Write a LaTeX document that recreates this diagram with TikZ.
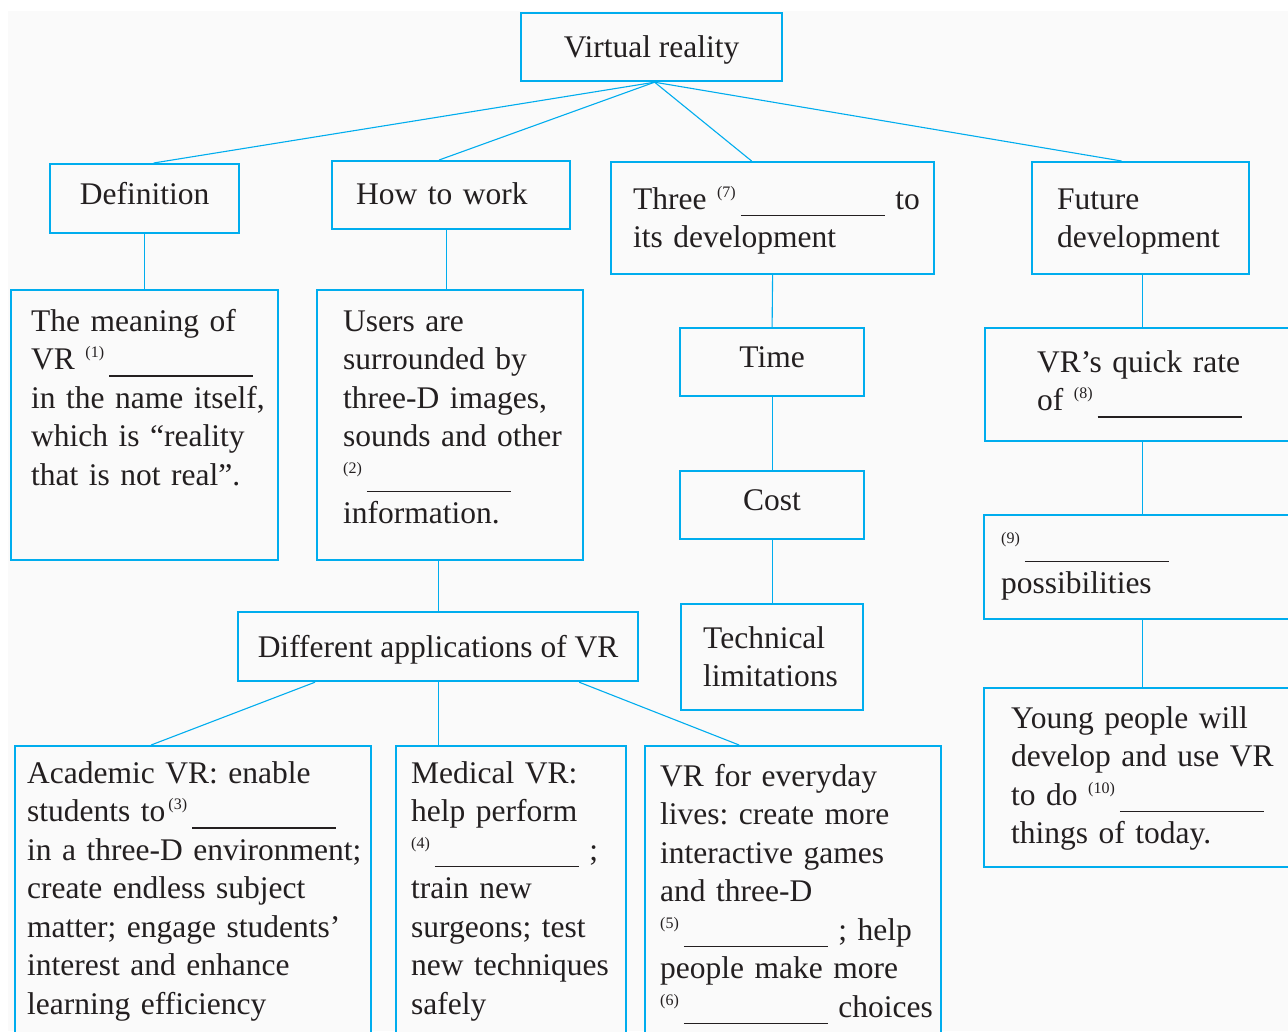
\documentclass[tikz,border=0pt]{standalone}
\usepackage{fontspec}
\setmainfont{Liberation Serif}
\frenchspacing
\usetikzlibrary{positioning,calc}
\definecolor{vrblue}{RGB}{0,173,238}
\definecolor{paper}{RGB}{250,250,250}
\definecolor{ink}{RGB}{35,31,32}
\newcommand\fillin[1]{\raisebox{12pt}{\fontsize{16}{16}\selectfont(#1)}\hspace{5pt}\rule[-7pt]{144pt}{1.2pt}}
\tikzset{
  box/.style={draw=vrblue, line width=2.2pt, fill=paper, anchor=north west, inner sep=0pt},
  headbox/.style={box, text=ink, text height=21pt, text depth=0pt},
  highbox/.style={headbox, text depth=10pt},
  txt/.style={anchor=base west, inner sep=0pt, align=left, text=ink},
  link/.style={draw=vrblue, line width=1.1pt}
}
\begin{document}
\begin{tikzpicture}[x=1pt, y=-1pt, font={\fontsize{31.5}{38.5}\selectfont}]
  \clip (0,0) rectangle (1288,1031);
  \fill[paper] (8,11) rectangle (1288,1031);

  % top rows
  \node[headbox, minimum width=261pt, minimum height=68pt] (vr) at (520,12) {Virtual reality};
  \node[highbox, minimum width=189pt, minimum height=69pt] (def) at (49,163) {Definition};
  \node[box, minimum width=238pt, minimum height=68pt] (how) at (331,160) {};
  \node[txt, text width=213pt] (howtxt) at (356,204) {How to work};
  \node[box, minimum width=323pt, minimum height=112pt] (three) at (610,161) {};
  \node[txt, text width=300pt] (threetxt) at (633,209) {Three \fillin{7} to\\its development};
  \node[box, minimum width=217pt, minimum height=112pt] (future) at (1031,161) {};
  \node[txt, text width=191pt] (futuretxt) at (1057,209) {Future\\development};

  \node[box, minimum width=267pt, minimum height=270pt] (mean) at (10,289) {};
  \node[txt, text width=246pt] (meantxt) at (31,331)
    {The meaning of\\VR \fillin{1}\\in the name itself,\\which is “reality\\that is not real”.};
  \node[box, minimum width=266pt, minimum height=270pt] (users) at (316,289) {};
  \node[txt, text width=239pt] (userstxt) at (343,331)
    {Users are\\surrounded by\\three-D images,\\sounds and other\\\fillin{2}\\information.};

  % middle column
  \node[highbox, minimum width=184pt, minimum height=68pt] (time) at (679,327) {Time};
  \node[highbox, minimum width=184pt, minimum height=68pt] (cost) at (679,470) {Cost};
  \node[box, minimum width=182pt, minimum height=106pt] (tech) at (680,603) {};
  \node[txt, text width=159pt] (techtxt) at (703,648) {Technical\\limitations};

  % right column
  \node[box, minimum width=314pt, minimum height=113pt] (quick) at (984,327) {};
  \node[txt, text width=251pt] (quicktxt) at (1037,372) {VR’s quick rate\\of \fillin{8}};
  \node[box, minimum width=316pt, minimum height=104pt] (nine) at (983,514) {};
  \node[txt, text width=287pt] (ninetxt) at (1001,555) {\fillin{9}\\possibilities};
  \node[box, minimum width=316pt, minimum height=179pt] (young) at (983,687) {};
  \node[txt, text width=277pt] (youngtxt) at (1011,728)
    {Young people will\\develop and use VR\\to do \fillin{10}\\things of today.};

  % applications
  \node[headbox, minimum width=400pt, minimum height=69pt] (diff) at (237,611) {Different applications of VR};
  \node[box, minimum width=356pt, minimum height=300pt] (acad) at (14,745) {};
  \node[txt, text width=343pt] (acadtxt) at (27,783)
    {Academic VR: enable\\students to\hspace{3pt}\fillin{3}\\in a three-D environment;\\create endless subject\\matter; engage students’\\interest and enhance\\learning efficiency};
  \node[box, minimum width=230pt, minimum height=300pt] (med) at (395,745) {};
  \node[txt, text width=214pt] (medtxt) at (411,783)
    {Medical VR:\\help perform\\\fillin{4} ;\\train new\\surgeons; test\\new techniques\\safely};
  \node[box, minimum width=296pt, minimum height=300pt] (every) at (644,745) {};
  \node[txt, text width=280pt] (everytxt) at (660,786)
    {VR for everyday\\lives: create more\\interactive games\\and three-D\\\fillin{5} ; help\\people make more\\\fillin{6} choices};

  % connectors
  \draw[link] ([xshift=3pt]vr.south) -- ([xshift=9pt]def.north);
  \draw[link] ([xshift=3pt]vr.south) -- ([xshift=-12pt]how.north);
  \draw[link] ([xshift=3pt]vr.south) -- ([xshift=-21pt]three.north);
  \draw[link] ([xshift=3pt]vr.south) -- ([xshift=-19pt]future.north);
  \draw[link] (def.south) -- (mean.north);
  \draw[link] ([xshift=-5pt]how.south) -- ([xshift=-4pt]users.north);
  \draw[link] (users.south -| diff.north) -- (diff.north);
  \draw[link] (three.south) -- (time.north);
  \draw[link] (time.south) -- (cost.north);
  \draw[link] (cost.south) -- (tech.north);
  \draw[link] (future.south -| quick.north) -- (quick.north);
  \draw[link] (quick.south) -- (nine.north);
  \draw[link] (nine.south) -- (young.north);
  \draw[link] ([xshift=78pt]diff.south west) -- ([xshift=-42pt]acad.north);
  \draw[link] (diff.south) -- (diff.south |- med.north);
  \draw[link] ([xshift=-60pt]diff.south east) -- ([xshift=-54pt]every.north);
\end{tikzpicture}
\end{document}
